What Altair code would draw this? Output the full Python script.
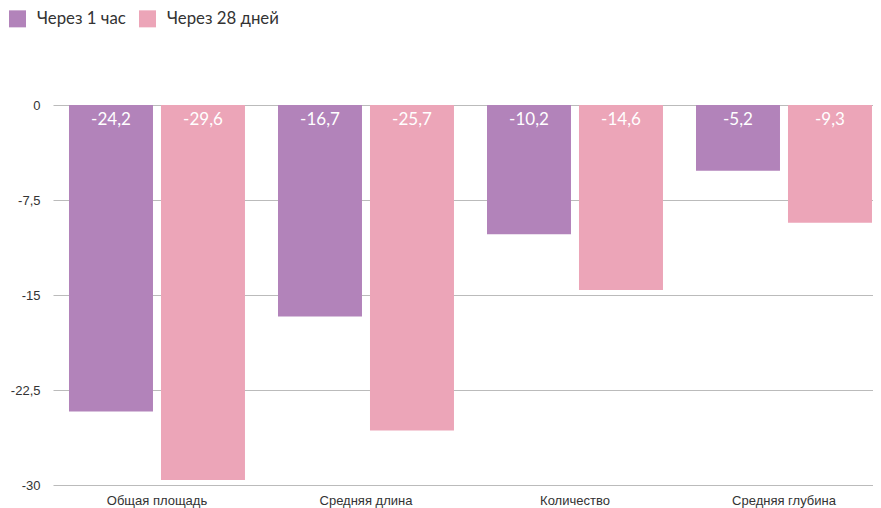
import altair as alt
import pandas as pd

categories = ["Общая площадь", "Средняя длина", "Количество", "Средняя глубина"]
series = ["Через 1 час", "Через 28 дней"]
after_1h = [-24.2, -16.7, -10.2, -5.2]
after_28d = [-29.6, -25.7, -14.6, -9.3]
y_ticks = [0, -7.5, -15, -22.5, -30]
colors = ["#b283ba", "#eca5b8"]

rows = []
for i, c in enumerate(categories):
    rows.append({"cat": c, "series": series[0], "value": after_1h[i]})
    rows.append({"cat": c, "series": series[1], "value": after_28d[i]})
df = pd.DataFrame(rows)

x = alt.X("cat:N", sort=categories,
          scale=alt.Scale(paddingInner=0.158, paddingOuter=0.0407, align=0.94),
          axis=alt.Axis(title=None, labelAngle=0, labelFont="Liberation Sans",
                        labelFontSize=13, labelColor="#333333", labelPadding=9,
                        ticks=False, domain=False))
xo = alt.XOffset("series:N", sort=series,
                 scale=alt.Scale(paddingInner=0.087, paddingOuter=0))
color = alt.Color("series:N", sort=series,
                  scale=alt.Scale(domain=series, range=colors),
                  legend=alt.Legend(title=None, orient="none", legendX=-44, legendY=-95,
                                    direction="horizontal", symbolType="square",
                                    symbolSize=289, symbolStrokeWidth=0,
                                    labelFont="Lato", labelFontSize=16.8,
                                    labelColor="#333333", labelOffset=11,
                                    columnPadding=13))

base = alt.Chart(df)

bars = base.mark_bar(opacity=1).encode(
    x=x, xOffset=xo,
    y=alt.Y("value:Q", scale=alt.Scale(domain=[-30, 0], nice=False, zero=True),
            axis=alt.Axis(title=None, values=y_ticks, labelFont="Liberation Sans",
                          labelFontSize=13, labelColor="#333333", labelPadding=13,
                          ticks=False, domain=False, gridColor="#bbbbbb",
                          labelExpr="replace('' + datum.value, '.', ',')")),
    color=color,
)

text = base.transform_calculate(
    lbl="replace('' + datum.value, '.', ',')"
).mark_text(font="Lato", fontSize=17, color="white", baseline="middle").encode(
    x=x, xOffset=xo,
    y=alt.value(15),
    text="lbl:N",
)

chart = alt.layer(bars, text).properties(
    width=820, height=380,
    autosize=alt.AutoSizeParams(type="none"),
    padding={"left": 45, "top": 97, "right": 0, "bottom": 24},
).configure_view(stroke=None).configure_axis(gridWidth=1)

chart.save("out.html", embed_options={"renderer": "svg", "actions": False})
